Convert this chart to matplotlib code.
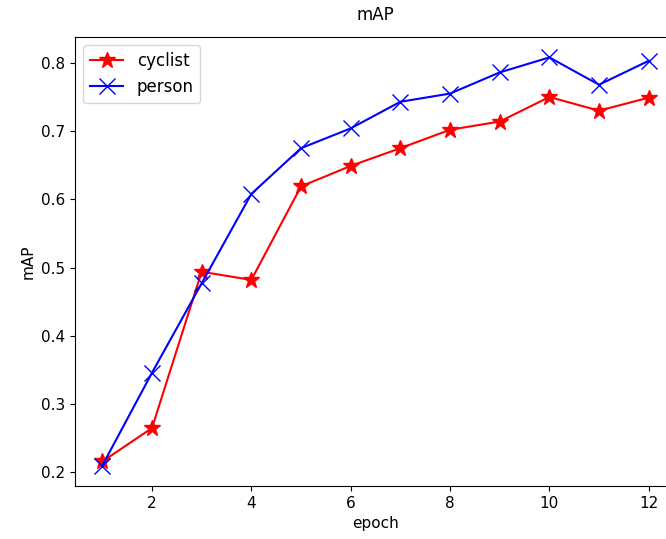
import matplotlib
matplotlib.use('Agg')
import matplotlib.pyplot as plt

# valores
epoch = [1, 2, 3, 4, 5, 6, 7, 8, 9, 10, 11, 12]
cyclist = [0.216, 0.265, 0.494, 0.482, 0.619, 0.649, 0.675, 0.702, 0.714, 0.750, 0.730, 0.749]
person = [0.210, 0.346, 0.477, 0.608, 0.675, 0.704, 0.743, 0.755, 0.786, 0.808, 0.768, 0.803]

plt.rcParams['font.size'] = 11

fig = plt.figure(figsize=(6.66, 5.39), dpi=100)
ax = fig.add_axes([75 / 666, 53 / 539, 601 / 666, 449 / 539])

ax.plot(epoch, cyclist, color='red', marker='*', markersize=12, label='cyclist')
ax.plot(epoch, person, color='blue', marker='x', markersize=12, label='person')

ax.set_title('mAP', fontsize=12, pad=12)
ax.set_xlabel('epoch')
ax.set_ylabel('mAP')
ax.legend(loc='upper left', fontsize=12)

fig.savefig('out.png', dpi=100)
